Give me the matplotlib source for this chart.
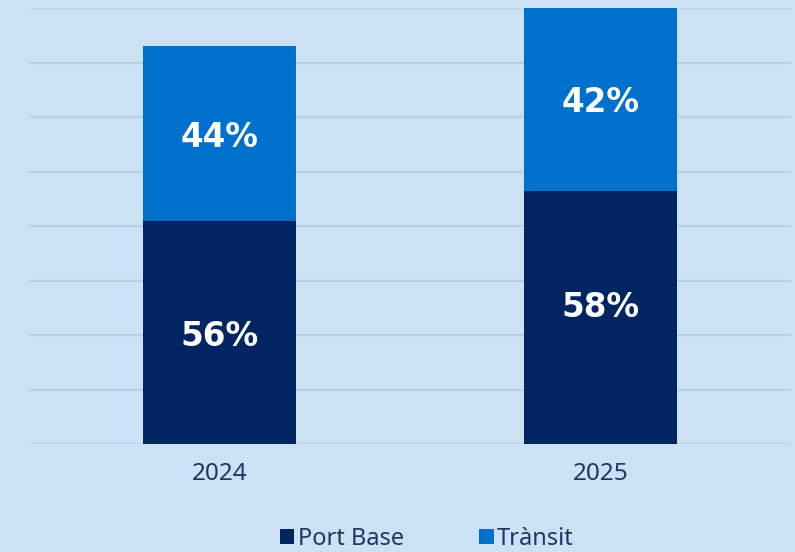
import matplotlib.pyplot as plt
import numpy as np

years = ["2024", "2025"]
port_base = [4.09, 4.64]
transit = [3.21, 3.36]
series_names = ["Port Base", "Trànsit"]

BG = "#cde1f4"
NAVY = "#002561"
BLUE = "#0070cd"
TEXT = "#1b3766"
GRID = "#b8cfe8"

# small vertical nudges (points) for the % labels, as in the original
nudge_base = [-3, 7]
nudge_transit = [-3, -2]

plt.rcParams['font.family'] = ['Noto Sans', 'DejaVu Sans']

fig = plt.figure(figsize=(7.95, 5.52), dpi=100)
fig.patch.set_facecolor(BG)
ax = fig.add_axes([29 / 795, 108 / 552, 762 / 795, 436 / 552])
ax.set_facecolor(BG)

x = np.arange(len(years))
width = 0.4
b1 = ax.bar(x, port_base, width, color=NAVY, label=series_names[0], zorder=3)
b2 = ax.bar(x, transit, width, bottom=port_base, color=BLUE, label=series_names[1], zorder=3)

# percentage labels inside the segments
for i in range(len(years)):
    total = port_base[i] + transit[i]
    ax.annotate(f"{round(100 * port_base[i] / total)}%", (x[i], port_base[i] / 2),
                xytext=(0, nudge_base[i]), textcoords='offset points',
                ha='center', va='center', color='white', fontsize=23.5,
                fontweight='bold', family='DejaVu Sans', zorder=4)
    ax.annotate(f"{round(100 * transit[i] / total)}%", (x[i], port_base[i] + transit[i] / 2),
                xytext=(0, nudge_transit[i]), textcoords='offset points',
                ha='center', va='center', color='white', fontsize=23.5,
                fontweight='bold', family='DejaVu Sans', zorder=4)

ax.set_xlim(-0.5, 1.5)
ax.set_ylim(0, 8)
ax.set_yticks(range(0, 9))
ax.yaxis.grid(True, color=GRID, linewidth=1.5, zorder=0)
ax.set_axisbelow(True)
ax.tick_params(axis='y', left=False, labelleft=False)
ax.tick_params(axis='x', length=0, pad=13, labelsize=17.5, labelcolor=TEXT)
ax.set_xticks(x)
ax.set_xticklabels(years)
for s in ax.spines.values():
    s.set_visible(False)

leg = fig.legend(handles=[b1, b2], labels=series_names, loc='center',
                 bbox_to_anchor=(427 / 795, 1 - 539 / 552), ncol=2, frameon=False,
                 fontsize=17, handlelength=0.6, handleheight=0.6,
                 handletextpad=0.15, columnspacing=3.2, labelcolor=TEXT,
                 borderaxespad=0, borderpad=0)

plt.savefig("out.png", dpi=100, facecolor=BG)
